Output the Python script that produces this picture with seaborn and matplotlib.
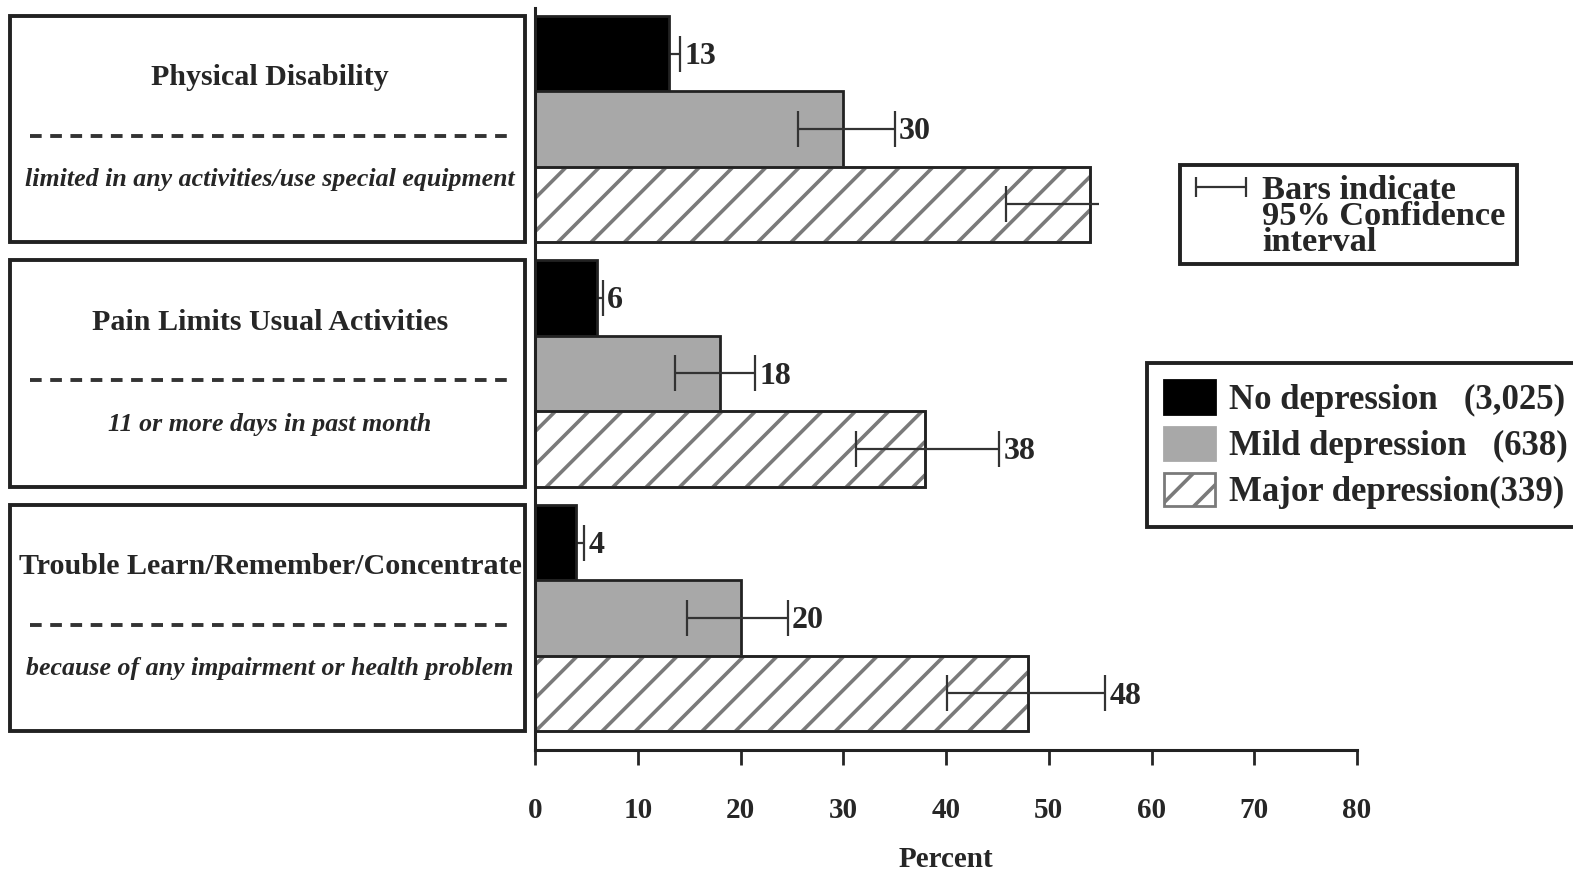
import matplotlib
matplotlib.use("Agg")
import matplotlib.pyplot as plt
import matplotlib.transforms as mtransforms
from matplotlib.patches import Rectangle, Patch
from matplotlib.lines import Line2D
import seaborn as sns
import pandas as pd

# chart data
categories = ['Physical Disability', 'Pain Limits Usual Activities',
              'Trouble Learn/Remember/Concentrate']
subtitles = ['limited in any activities/use special equipment',
             '11 or more days in past month',
             'because of any impairment or health problem']
groups = ['No depression', 'Mild depression', 'Major depression']
legend_labels = ['No depression   (3,025)', 'Mild depression   (638)',
                 'Major depression(339)']

no_dep = [13, 6, 4]
mild_dep = [30, 18, 20]
major_dep = [54, 38, 48]

# 95% confidence interval ends
no_lo = [11.9, 5.2, 3.2]
no_hi = [14.1, 6.6, 4.8]
mild_lo = [25.6, 13.6, 14.8]
mild_hi = [35.0, 21.4, 24.6]
major_lo = [45.8, 31.2, 40.1]
major_hi = [54.9, 45.2, 55.5]

# printed value labels ('' = not shown)
no_text = ['13', '6', '4']
mild_text = ['30', '18', '20']
major_text = ['', '38', '48']

xticks = [0, 10, 20, 30, 40, 50, 60, 70, 80]

sns.set_style('white')
plt.rcParams['font.family'] = ['Liberation Serif', 'DejaVu Serif']
plt.rcParams['font.weight'] = 'bold'
plt.rcParams['hatch.linewidth'] = 1.3

df = pd.DataFrame({
    'category': categories * 3,
    'group': [g for g in groups for _ in categories],
    'value': no_dep + mild_dep + major_dep,
})

W, H = 1573, 876
fig = plt.figure(figsize=(W / 200, H / 200), dpi=200)
ax = fig.add_axes([535 / W, 1 - 750 / H, (1357 - 535) / W, (750 - 8) / H])

bar_w = 0.925
sns.barplot(data=df, y='category', x='value', hue='group', order=categories,
            hue_order=groups, palette=['black', '#a8a8a8', 'white'],
            saturation=1, width=bar_w, gap=0, errorbar=None, orient='h',
            edgecolor='#222222', linewidth=1.0, legend=False, ax=ax)

# hatch the major depression bars, keep a dark outline on top
for p in ax.containers[2]:
    p.set_hatch('//')
    p.set_edgecolor('#7a7a7a')
    ax.add_patch(Rectangle(p.get_xy(), p.get_width(), p.get_height(),
                           fill=False, ec='#222222', lw=1.0, zorder=p.get_zorder() + 0.1))

# error bars + value labels (black series sits behind its bars)
series = [(no_lo, no_hi, no_text, 0.5), (mild_lo, mild_hi, mild_text, 5),
          (major_lo, major_hi, major_text, 5)]
for cont, (lo, hi, txt, z) in zip(ax.containers, series):
    ys = [p.get_y() + p.get_height() / 2 for p in cont]
    ax.hlines(ys, lo, hi, color='#333333', lw=0.8, zorder=z)
    ax.plot(lo, ys, ls='none', marker='|', ms=13, mew=0.8, color='#333333', zorder=z)
    for y, h, t in zip(ys, hi, txt):
        if not t:
            continue
        ax.plot([h], [y], marker='|', ms=13, mew=0.8, color='#333333', zorder=z)
        ax.annotate(t, (h, y), xytext=(1.5, -1), textcoords='offset points',
                    ha='left', va='center', fontsize=11.5, fontweight='bold')

ax.set_xlim(0, 80)
ax.set_ylim(2.54, -0.495)
ax.set_xticks(xticks)
ax.set_xticklabels([str(t) for t in xticks], fontsize=10.5, fontweight='bold')
ax.set_yticks([])
ax.set_ylabel('')
ax.set_xlabel('Percent', fontsize=10.5, fontweight='bold', labelpad=8)
ax.tick_params(axis='x', direction='out', length=5.4, width=1.0, pad=11.5, bottom=True)
for s in ['top', 'right']:
    ax.spines[s].set_visible(False)
for s in ['left', 'bottom']:
    ax.spines[s].set_linewidth(1.1)
    ax.spines[s].set_color('#222222')

# label boxes at left
blend = mtransforms.blended_transform_factory(fig.transFigure, ax.transData)
for i, (cat, sub) in enumerate(zip(categories, subtitles)):
    fig.add_artist(Rectangle((10 / W, i - bar_w / 2), 515 / W, bar_w,
                             transform=blend, fill=False, ec='#222222', lw=1.4))
    fig.add_artist(Line2D([30 / W, 508 / W], [i + 0.027, i + 0.027], transform=blend,
                          color='#333333', lw=1.4, ls=(0, (3.0, 2.2))))
    fig.text(270 / W, i - 0.21, cat, transform=blend, ha='center', va='center',
             fontsize=10.8, fontweight='bold')
    fig.text(270 / W, i + 0.208, sub, transform=blend, ha='center', va='center',
             fontsize=9.3, fontweight='bold', style='italic')

# confidence interval note
fig.add_artist(Rectangle((1180 / W, 1 - 264 / H), 337 / W, 99 / H,
                         fill=False, ec='#222222', lw=1.4))
fig.add_artist(Line2D([1196 / W, 1246 / W], [1 - 187 / H, 1 - 187 / H],
                      color='#333333', lw=0.8))
fig.add_artist(Line2D([1196 / W, 1246 / W], [1 - 187 / H, 1 - 187 / H], ls='none',
                      marker='|', ms=7, mew=0.8, color='#333333'))
fig.text(1262 / W, 1 - 175 / H, 'Bars indicate\n95% Confidence\ninterval',
         ha='left', va='top', fontsize=12.4, fontweight='bold', linespacing=0.8)

# group legend
handles = [Patch(facecolor='black', edgecolor='black'),
           Patch(facecolor='#a8a8a8', edgecolor='#a8a8a8'),
           Patch(facecolor='white', edgecolor='#7a7a7a', hatch='//')]
leg = fig.legend(handles, legend_labels, loc='upper left',
                 bbox_to_anchor=(1147 / W, 1 - 363 / H), borderaxespad=0,
                 frameon=True, fancybox=False, framealpha=1, edgecolor='#222222',
                 prop={'size': 12.5, 'weight': 'bold'}, handlelength=1.45,
                 handleheight=1.1, handletextpad=0.4, labelspacing=0.28,
                 borderpad=0.5)
leg.get_frame().set_linewidth(1.4)

fig.savefig('out.png', dpi=200)
